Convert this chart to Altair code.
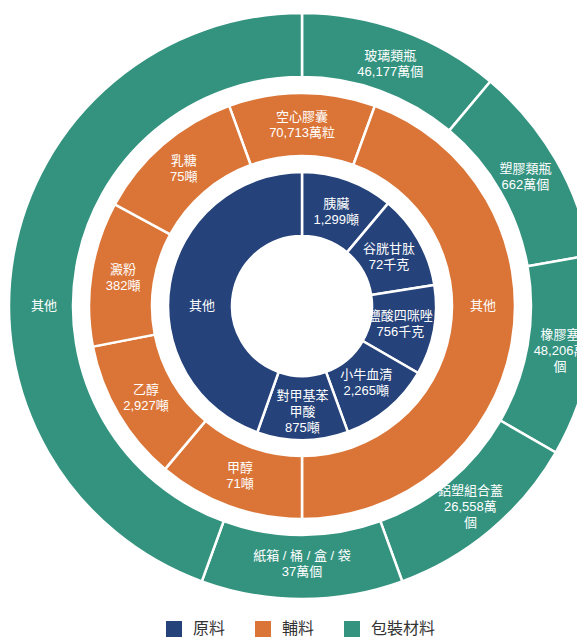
import math
import altair as alt
import pandas as pd

# ---- data ----
groups = ["原料", "輔料", "包裝材料"]
group_colors = ["#25427A", "#DB7537", "#33937F"]

raw_names = ["胰臟", "谷胱甘肽", "鹽酸四咪唑", "小牛血清", "對甲基苯甲酸", "其他"]
raw_labels = ["胰臟\n1,299噸", "谷胱甘肽\n72千克", "鹽酸四咪唑\n756千克",
              "小牛血清\n2,265噸", "對甲基苯\n甲酸\n875噸", "其他"]
raw_share = [40, 41, 39, 40, 39.5, 160.5]

aux_names = ["空心膠囊", "其他", "甲醇", "乙醇", "澱粉", "乳糖"]
aux_labels = ["空心膠囊\n70,713萬粒", "其他", "甲醇\n71噸", "乙醇\n2,927噸",
              "澱粉\n382噸", "乳糖\n75噸"]
aux_share = [40, 160, 40, 39, 39.5, 41.5]

pkg_names = ["玻璃類瓶", "塑膠類瓶", "橡膠塞", "鋁塑組合蓋", "紙箱 / 桶 / 盒 / 袋", "其他"]
pkg_labels = ["玻璃類瓶\n46,177萬個", "塑膠類瓶\n662萬個", "橡膠塞\n48,206萬\n個",
              "鋁塑組合蓋\n26,558萬\n個", "紙箱 / 桶 / 盒 / 袋\n37萬個", "其他"]
pkg_share = [40, 40, 40, 40, 40, 160]

CX, CY = 294, 298
FONT = "Liberation Sans, Noto Sans CJK TC, sans-serif"
LINE_H = 16


def ring(names, labels, share, group, r_in, r_out, start_deg, label_r, bump3):
    df = pd.DataFrame({
        "name": names, "label": labels, "share": share,
        "group": group, "idx": list(range(len(names))),
    })
    df["n"] = df["label"].str.count("\n") + 1
    rng = [math.radians(start_deg), math.radians(start_deg + 360)]
    tscale = alt.Scale(domain=[0, 1], range=rng)
    base = alt.Chart(df).transform_joinaggregate(
        total="sum(share)"
    ).transform_window(
        cum="sum(share)", sort=[alt.SortField("idx")], frame=[None, 0]
    ).transform_calculate(
        t0="(datum.cum - datum.share) / datum.total",
        t1="datum.cum / datum.total",
        # label anchor: mid-angle, large slices anchored a bit earlier
        tm="(datum.cum - datum.share / 2 - (datum.share > datum.total / 4 ? datum.share / 16 : 0)) / datum.total",
    )
    arc = base.mark_arc(
        innerRadius=r_in, outerRadius=r_out, stroke="white", strokeWidth=2.5
    ).encode(
        x=alt.value(CX), y=alt.value(CY),
        theta=alt.Theta("t0:Q", scale=tscale),
        theta2="t1:Q",
        color=alt.Color(
            "group:N",
            scale=alt.Scale(domain=groups, range=group_colors),
            legend=alt.Legend(
                title=None, orient="none", direction="horizontal",
                legendX=158, legendY=613, symbolType="square", symbolSize=256,
                symbolStrokeWidth=0, labelFontSize=16, labelColor="#333333",
                labelFont=FONT, labelOffset=11, columnPadding=29,
            ),
        ),
    )
    texts = []
    for n in sorted(df["n"].unique()):
        n = int(n)
        texts.append(
            base.transform_filter(f"datum.n == {n}").mark_text(
                radius=label_r + (bump3 if n >= 3 else 0), color="white",
                fontSize=13, font=FONT,
                lineBreak="\n", lineHeight=LINE_H, align="center",
                baseline="middle", dy=-(n - 1) * LINE_H / 2,
            ).encode(
                x=alt.value(CX), y=alt.value(CY),
                theta=alt.Theta("tm:Q", scale=tscale),
                text="label:N",
            )
        )
    return arc, texts


a1, t1 = ring(pkg_names, pkg_labels, pkg_share, "包裝材料", 229, 293, 0, 258, 4)
a2, t2 = ring(aux_names, aux_labels, aux_share, "輔料", 150, 213, -20, 181, 0)
a3, t3 = ring(raw_names, raw_labels, raw_share, "原料", 70, 134, 0, 100, 6)

chart = alt.layer(a1, a2, a3, *t1, *t2, *t3).resolve_scale(
    theta="independent"
).properties(
    width=569, height=629, autosize=alt.AutoSizeParams(type="none"), padding=0
).configure_view(stroke=None)

chart.save("out.html", embed_options={"renderer": "svg", "actions": False})
